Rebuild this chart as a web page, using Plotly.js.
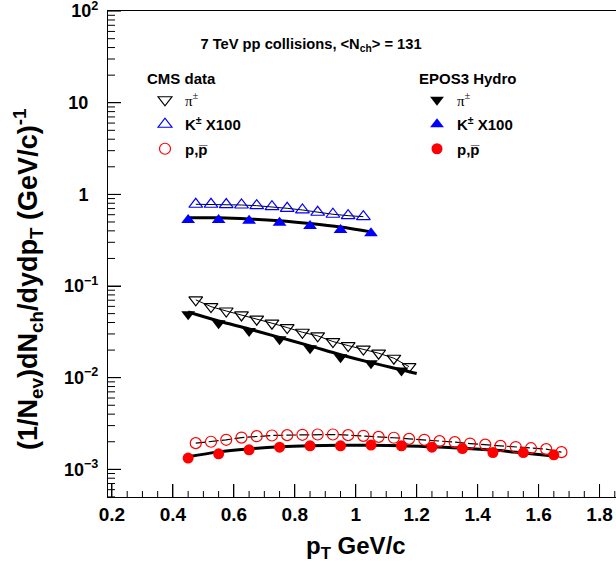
<!DOCTYPE html>
<html>
<head>
<meta charset="utf-8">
<script src="https://cdn.plot.ly/plotly-3.0.1.min.js"></script>
<style>
html,body{margin:0;padding:0;background:#fff;}
#chart{width:616px;height:571px;}
</style>
</head>
<body>
<div id="chart"></div>
<script>
// ---- Data ----
// CMS data, pions (open down triangles)
const cmsPiX = [0.475,0.525,0.575,0.625,0.675,0.725,0.775,0.825,0.875,0.925,0.975,1.025,1.075,1.125,1.175];
const cmsPiY = [0.0707,0.0596,0.0534,0.0484,0.0435,0.0393,0.0352,0.0313,0.0286,0.0248,0.0224,0.0205,0.0185,0.0163,0.0132];
// CMS data, kaons x100 (open up triangles)
const cmsKX = [0.475,0.525,0.575,0.625,0.675,0.725,0.775,0.825,0.875,0.925,0.975,1.025];
const cmsKY = [0.78,0.78,0.775,0.766,0.753,0.734,0.705,0.676,0.638,0.607,0.586,0.571];
// CMS data, protons (open circles)
const cmsPX = [0.475,0.525,0.575,0.625,0.675,0.725,0.775,0.825,0.875,0.925,0.975,1.025,1.075,1.125,1.175,1.225,1.275,1.325,1.375,1.425,1.475,1.525,1.575,1.625,1.675];
const cmsPY = [0.00193,0.00200,0.00210,0.00222,0.00230,0.00234,0.00236,0.00238,0.00240,0.00240,0.00236,0.00232,0.00226,0.00221,0.00215,0.00210,0.00203,0.00198,0.00191,0.00186,0.00180,0.00175,0.00170,0.00166,0.00154];

// EPOS3 Hydro, pions (filled down triangles) and curve
const eposPiX = [0.45,0.55,0.65,0.75,0.85,0.95,1.05,1.15];
const eposPiY = [0.0493,0.0393,0.0324,0.0263,0.0210,0.0167,0.0144,0.01195];
const eposPiCurveX = [0.45,0.55,0.65,0.75,0.85,0.95,1.05,1.15,1.2];
const eposPiCurveY = [0.052,0.0415,0.034,0.0275,0.0222,0.0178,0.0146,0.0122,0.0111];
// EPOS3 Hydro, kaons x100 (filled up triangles) and curve
const eposKX = [0.45,0.55,0.65,0.75,0.85,0.95,1.05];
const eposKY = [0.526,0.526,0.517,0.491,0.452,0.409,0.377];
const eposKCurveX = [0.45,0.55,0.65,0.75,0.85,0.95,1.05];
const eposKCurveY = [0.555,0.555,0.54,0.515,0.48,0.44,0.39];
// EPOS3 Hydro, protons (filled circles) and curve
const eposPX = [0.45,0.55,0.65,0.75,0.85,0.95,1.05,1.15,1.25,1.35,1.45,1.55,1.65];
const eposPY = [0.001325,0.001476,0.001633,0.001746,0.001805,0.001805,0.001837,0.001805,0.001746,0.001686,0.001525,0.001525,0.00144];
const eposPCurveX = [0.45,0.55,0.65,0.75,0.85,0.95,1.05,1.15,1.25,1.35,1.45,1.55,1.65];
const eposPCurveY = [0.00137,0.00155,0.00167,0.00176,0.00181,0.00183,0.00183,0.00181,0.00176,0.00170,0.00162,0.00151,0.00140];

// Tick values and labels
const xMajorTicks = [0.2,0.4,0.6,0.8,1.0,1.2,1.4,1.6,1.8];
const yTickVals = [0.001,0.01,0.1,1,10,100];
const yTickText = ['10<sup>\u22123</sup>\u00a0','10<sup>\u22122</sup>\u00a0','10<sup>\u22121</sup>\u00a0','1\u00a0\u00a0\u00a0','10\u00a0\u00a0\u00a0','10<sup>2</sup>\u00a0'];

// ---- Styling ----
const BLUE = 'rgb(0,0,255)', RED = 'rgb(255,0,0)', BLACK = 'rgb(0,0,0)';
const FONT = 'Liberation Sans, Arial, Helvetica, sans-serif';
const piName = '<span style="font-family:\'Liberation Serif\', serif;font-weight:normal">\u03c0<sup>\u00b1</sup></span>';
const kName = 'K<sup>\u00b1</sup> X100';
const pName = 'p,p\u0305';

const X_RANGE = [0.187, 1.854];
const Y_RANGE = [-3.302, 2.001];

// minor tick positions (axis decoration)
const yMinor = [];
[0.0001,0.001,0.01,0.1,1,10].forEach(d => { for (let k=2;k<=9;k++) yMinor.push(+(d*k).toPrecision(3)); });
const xMinor = [];
for (let k = 0; k <= 33; k++) { const v = +(0.2 + 0.05*k).toFixed(2); if (k % 4 !== 0 && v <= X_RANGE[1]) xMinor.push(v); }

const traces = [
  // thin lines through CMS data
  {x: cmsKX, y: cmsKY, mode:'lines', line:{color:BLACK, width:1}, showlegend:false, hoverinfo:'skip'},
  {x: cmsPiX, y: cmsPiY, mode:'lines', line:{color:BLACK, width:1}, showlegend:false, hoverinfo:'skip'},
  {x: cmsPX, y: cmsPY, mode:'lines', line:{color:BLACK, width:1.2, dash:'10px,3px'}, showlegend:false, hoverinfo:'skip'},
  // EPOS curves
  {x: eposKCurveX, y: eposKCurveY, mode:'lines', line:{color:BLACK, width:3, shape:'spline'}, showlegend:false, hoverinfo:'skip'},
  {x: eposPiCurveX, y: eposPiCurveY, mode:'lines', line:{color:BLACK, width:3, shape:'spline'}, showlegend:false, hoverinfo:'skip'},
  {x: eposPCurveX, y: eposPCurveY, mode:'lines', line:{color:BLACK, width:3, shape:'spline'}, showlegend:false, hoverinfo:'skip'},
  // CMS markers
  {x: cmsPiX, y: cmsPiY, mode:'markers', name: piName, legend:'legend', legendgroup:'a1',
   marker:{symbol:'triangle-down-open', size:12, color:BLACK, line:{width:1.2, color:BLACK}}},
  {x: cmsKX, y: cmsKY, mode:'markers', name: kName, legend:'legend', legendgroup:'a2',
   marker:{symbol:'triangle-up-open', size:12, color:BLUE, line:{width:1.2, color:BLUE}}},
  {x: cmsPX, y: cmsPY, mode:'markers', name: pName, legend:'legend', legendgroup:'a3',
   marker:{symbol:'circle-open', size:11, color:RED, line:{width:1.2, color:RED}}},
  // EPOS markers
  {x: eposPiX, y: eposPiY, mode:'markers', name: piName, legend:'legend2', legendgroup:'b1',
   marker:{symbol:'triangle-down', size:12, color:BLACK}},
  {x: eposKX, y: eposKY, mode:'markers', name: kName, legend:'legend2', legendgroup:'b2',
   marker:{symbol:'triangle-up', size:12, color:BLUE}},
  {x: eposPX, y: eposPY, mode:'markers', name: pName, legend:'legend2', legendgroup:'b3',
   marker:{symbol:'circle', size:11, color:RED}}
];

// plot area in pixels: x 108..616, y 11..497
const L = 108, R = 616, T = 11, B = 497;
const W = R - L, H = B - T;
const px2x = p => (p - L) / W;
const px2y = p => (B - p) / H;
const xv2paper = v => (v - X_RANGE[0]) / (X_RANGE[1] - X_RANGE[0]);
const yv2paper = v => (Math.log10(v) - Y_RANGE[0]) / (Y_RANGE[1] - Y_RANGE[0]);

// tick marks drawn inside the frame (ROOT style), as shapes in paper coordinates
const tickShapes = [];
const tline = {color: BLACK, width: 1};
xMajorTicks.forEach(v => tickShapes.push({type:'line', xref:'paper', yref:'paper', x0: xv2paper(v), x1: xv2paper(v), y0: 0, y1: 13/H, line: tline, layer:'above'}));
xMinor.forEach(v => tickShapes.push({type:'line', xref:'paper', yref:'paper', x0: xv2paper(v), x1: xv2paper(v), y0: 0, y1: 6/H, line: tline, layer:'above'}));
yTickVals.forEach(v => tickShapes.push({type:'line', xref:'paper', yref:'paper', x0: 0, x1: 13/W, y0: yv2paper(v), y1: yv2paper(v), line: tline, layer:'above'}));
yMinor.forEach(v => { const p = yv2paper(v); if (p >= 0 && p <= 1) tickShapes.push({type:'line', xref:'paper', yref:'paper', x0: 0, x1: 7/W, y0: p, y1: p, line: tline, layer:'above'}); });

const legendFont = {family: FONT, size: 15, color: BLACK, weight: 'bold'};
const layout = {
  width: 616, height: 571,
  margin: {l: L, r: 616 - R, t: T, b: 571 - B, pad: 0},
  paper_bgcolor: 'white', plot_bgcolor: 'white',
  showlegend: true,
  title: {text: '7 TeV pp collisions, &lt;N<sub>ch</sub>&gt; = 131', x: 311/616, xanchor:'center', xref:'container',
          y: 1 - 44/571, yanchor:'middle', yref:'container', font: {family: FONT, size: 14.7, color: BLACK, weight:'bold'}},
  xaxis: {
    range: X_RANGE, showgrid: false, zeroline: false,
    showline: true, linecolor: BLACK, linewidth: 1, mirror: true,
    ticks: 'inside', ticklen: 13, tickwidth: 1, tickcolor: BLACK,
    tickmode: 'array', tickvals: xMajorTicks,
    tickfont: {family: FONT, size: 19, color: BLACK, weight: 'bold'}
  },
  yaxis: {
    type: 'log', range: Y_RANGE, showgrid: false, zeroline: false,
    showline: true, linecolor: BLACK, linewidth: 1,
    ticks: 'inside', ticklen: 13, tickwidth: 1, tickcolor: BLACK,
    tickmode: 'array', tickvals: yTickVals, ticktext: yTickText,
    ticklabeloverflow: 'allow',
    tickfont: {family: FONT, size: 18, color: BLACK, weight: 'bold'}
  },
  shapes: tickShapes,
  legend: {x: px2x(145), y: px2y(64), xanchor: 'left', yanchor: 'top',
           bgcolor: 'rgba(0,0,0,0)', borderwidth: 0, font: legendFont, tracegroupgap: 2,
           title: {text: 'CMS data', font: legendFont}},
  legend2: {x: px2x(417), y: px2y(64), xanchor: 'left', yanchor: 'top',
            bgcolor: 'rgba(0,0,0,0)', borderwidth: 0, font: legendFont, tracegroupgap: 2,
            title: {text: 'EPOS3 Hydro', font: legendFont}},
  annotations: [
    {text: '(1/N<sub>ev</sub>)dN<sub>ch</sub>/dydp<sub>T</sub> (GeV/c)<sup>-1</sup>', textangle: -90,
     xref: 'paper', yref: 'paper', x: px2x(28), y: px2y(280), xanchor: 'center', yanchor: 'middle',
     showarrow: false, font: {family: FONT, size: 27, color: BLACK, weight: 'bold'}},
    {text: 'p<sub>T</sub> GeV/c', xref: 'paper', yref: 'paper', x: px2x(356), y: px2y(547),
     xanchor: 'center', yanchor: 'middle', showarrow: false,
     font: {family: FONT, size: 24, color: BLACK, weight: 'bold'}}
  ]
};

Plotly.newPlot('chart', traces, layout, {staticPlot: true, displayModeBar: false});
</script>
</body>
</html>
